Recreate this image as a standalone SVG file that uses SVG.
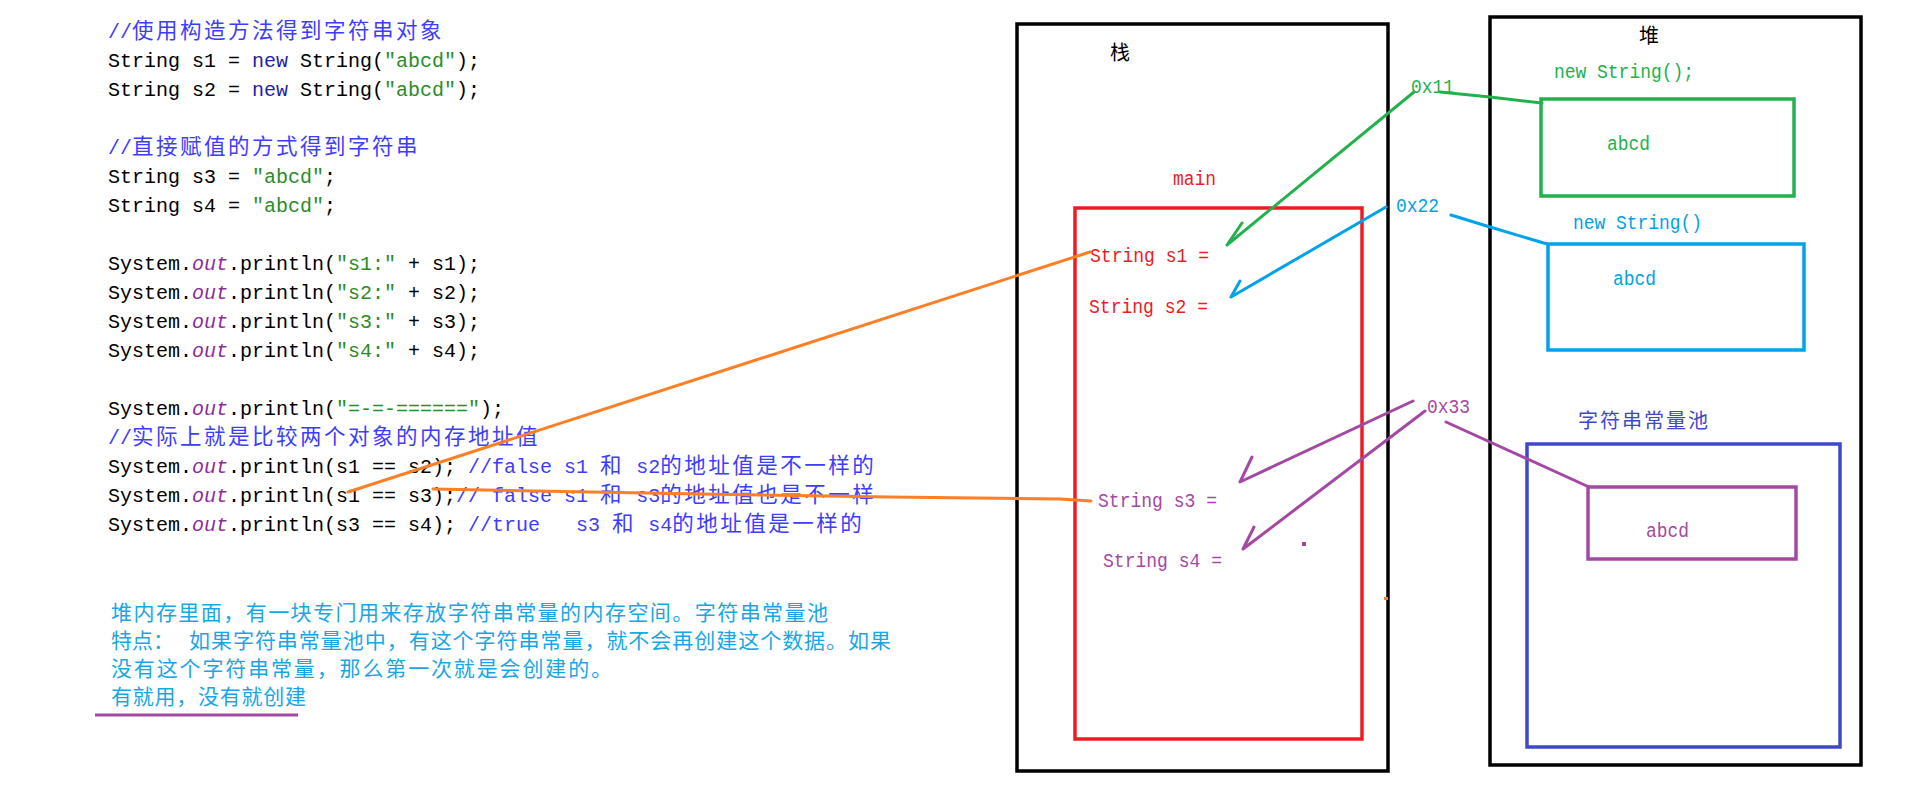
<svg xmlns="http://www.w3.org/2000/svg" width="1909" height="811" viewBox="0 0 1909 811">
<style>
.c{font-family:"Liberation Mono","Noto Sans CJK SC",monospace;font-size:20px;fill:#000;white-space:pre}
.k{fill:#1f1fa8}
.s{fill:#2a8c2a}
.o{fill:#8e2a9e;font-style:italic}
.cm{fill:#3d3dff}
.zh{font-family:"Noto Sans CJK SC",sans-serif;font-size:21.5px;letter-spacing:2.5px}
.note{font-family:"Noto Sans CJK SC",sans-serif;font-size:21px;fill:#1aa6e6}
.d{font-family:"Liberation Mono",monospace;font-size:20px}
.lbl{font-family:"Noto Sans CJK SC",sans-serif;font-size:20px}
.box{fill:none;stroke-width:3.5}
.ln{fill:none;stroke-width:3;stroke-linecap:round;stroke-linejoin:round}
</style>
<rect width="1909" height="811" fill="#fff"/>

<g id="code">
<text class="c" x="108" y="38" xml:space="preserve"><tspan class="cm">//<tspan class="zh">使用构造方法得到字符串对象</tspan></tspan></text>
<text class="c" x="108" y="67" xml:space="preserve">String s1 = <tspan class="k">new</tspan> String(<tspan class="s">"abcd"</tspan>);</text>
<text class="c" x="108" y="96" xml:space="preserve">String s2 = <tspan class="k">new</tspan> String(<tspan class="s">"abcd"</tspan>);</text>
<text class="c" x="108" y="154" xml:space="preserve"><tspan class="cm">//<tspan class="zh">直接赋值的方式得到字符串</tspan></tspan></text>
<text class="c" x="108" y="183" xml:space="preserve">String s3 = <tspan class="s">"abcd"</tspan>;</text>
<text class="c" x="108" y="212" xml:space="preserve">String s4 = <tspan class="s">"abcd"</tspan>;</text>
<text class="c" x="108" y="270" xml:space="preserve">System.<tspan class="o">out</tspan>.println(<tspan class="s">"s1:"</tspan> + s1);</text>
<text class="c" x="108" y="299" xml:space="preserve">System.<tspan class="o">out</tspan>.println(<tspan class="s">"s2:"</tspan> + s2);</text>
<text class="c" x="108" y="328" xml:space="preserve">System.<tspan class="o">out</tspan>.println(<tspan class="s">"s3:"</tspan> + s3);</text>
<text class="c" x="108" y="357" xml:space="preserve">System.<tspan class="o">out</tspan>.println(<tspan class="s">"s4:"</tspan> + s4);</text>
<text class="c" x="108" y="415" xml:space="preserve">System.<tspan class="o">out</tspan>.println(<tspan class="s">"=-=-======"</tspan>);</text>
<text class="c" x="108" y="444" xml:space="preserve"><tspan class="cm">//<tspan class="zh">实际上就是比较两个对象的内存地址值</tspan></tspan></text>
<text class="c" x="108" y="473" xml:space="preserve">System.<tspan class="o">out</tspan>.println(s1 == s2); <tspan class="cm">//false s1 <tspan class="zh">和</tspan> s2<tspan class="zh">的地址值是不一样的</tspan></tspan></text>
<text class="c" x="108" y="502" xml:space="preserve">System.<tspan class="o">out</tspan>.println(s1 == s3);<tspan class="cm">// false s1 <tspan class="zh">和</tspan> s3<tspan class="zh">的地址值也是不一样</tspan></tspan></text>
<text class="c" x="108" y="531" xml:space="preserve">System.<tspan class="o">out</tspan>.println(s3 == s4); <tspan class="cm">//true   s3 <tspan class="zh">和</tspan> s4<tspan class="zh">的地址值是一样的</tspan></tspan></text>
</g>

<g id="note">
<text class="note" x="111" y="620" textLength="717">堆内存里面，有一块专门用来存放字符串常量的内存空间。字符串常量池</text>
<text class="note" x="111" y="648">特点：</text>
<text class="note" x="189" y="648" textLength="702">如果字符串常量池中，有这个字符串常量，就不会再创建这个数据。如果</text>
<text class="note" x="111" y="676" textLength="501">没有这个字符串常量，那么第一次就是会创建的。</text>
<text class="note" x="111" y="704" textLength="195">有就用，没有就创建</text>
<line x1="95" y1="715" x2="298" y2="715" stroke="#a349a4" stroke-width="3"/>
</g>

<g id="stack">
<rect class="box" x="1017" y="24" width="371" height="747" stroke="#000"/>
<text class="lbl" x="1110" y="60" fill="#000">栈</text>
</g>

<g id="main">
<rect class="box" x="1075" y="208" width="287" height="531" stroke="#ed1c24" stroke-width="3"/>
<text class="d" x="1173" y="185" fill="#ed1c24" textLength="43" lengthAdjust="spacingAndGlyphs">main</text>
<text class="d" x="1090" y="262" fill="#ed1c24" textLength="119" lengthAdjust="spacingAndGlyphs">String s1 =</text>
<text class="d" x="1089" y="313" fill="#ed1c24" textLength="119" lengthAdjust="spacingAndGlyphs">String s2 =</text>
<text class="d" x="1098" y="507" fill="#a349a4" textLength="119" lengthAdjust="spacingAndGlyphs">String s3 =</text>
<text class="d" x="1103" y="567" fill="#a349a4" textLength="119" lengthAdjust="spacingAndGlyphs">String s4 =</text>
</g>

<g id="heap">
<rect class="box" x="1490" y="17" width="371" height="748" stroke="#000"/>
<text class="lbl" x="1639" y="43" fill="#000">堆</text>
</g>

<g id="obj1">
<text class="d" x="1554" y="78" fill="#22b14c" textLength="140" lengthAdjust="spacingAndGlyphs">new String();</text>
<rect class="box" x="1541" y="99" width="253" height="97" stroke="#22b14c" stroke-width="3"/>
<text class="d" x="1607" y="150" fill="#22b14c" textLength="43" lengthAdjust="spacingAndGlyphs">abcd</text>
</g>

<g id="obj2">
<text class="d" x="1573" y="229" fill="#00a2e8" textLength="129" lengthAdjust="spacingAndGlyphs">new String()</text>
<rect class="box" x="1548" y="244" width="256" height="106" stroke="#00a2e8" stroke-width="3"/>
<text class="d" x="1613" y="285" fill="#00a2e8" textLength="43" lengthAdjust="spacingAndGlyphs">abcd</text>
</g>

<g id="pool">
<text class="lbl" x="1578" y="428" fill="#3f48cc" textLength="130">字符串常量池</text>
<rect class="box" x="1527" y="444" width="313" height="303" stroke="#3f48cc" stroke-width="3"/>
<rect class="box" x="1588" y="487" width="208" height="72" stroke="#a349a4" stroke-width="3"/>
<text class="d" x="1646" y="537" fill="#a349a4" textLength="43" lengthAdjust="spacingAndGlyphs">abcd</text>
</g>

<g id="addresses">
<text class="d" x="1411" y="93" fill="#22b14c" textLength="43" lengthAdjust="spacingAndGlyphs">0x11</text>
<text class="d" x="1396" y="212" fill="#00a2e8" textLength="43" lengthAdjust="spacingAndGlyphs">0x22</text>
<text class="d" x="1427" y="413" fill="#a349a4" textLength="43" lengthAdjust="spacingAndGlyphs">0x33</text>
</g>

<g id="connectors">
<polyline class="ln" stroke="#22b14c" points="1242,223 1227,245 1414,92"/>
<polyline class="ln" stroke="#22b14c" points="1440,92 1490,97 1542,103"/>
<polyline class="ln" stroke="#00a2e8" points="1240,281 1231,297 1386,207"/>
<polyline class="ln" stroke="#00a2e8" points="1451,215 1490,227 1547,244"/>
<polyline class="ln" stroke="#a349a4" points="1252,457 1240,482 1413,401"/>
<polyline class="ln" stroke="#a349a4" points="1254,527 1243,549 1425,411"/>
<polyline class="ln" stroke="#a349a4" points="1446,422 1589,487"/>
<polyline class="ln" stroke="#ff7f27" points="1090,252 348,492"/>
<polyline class="ln" stroke="#ff7f27" points="433,489 700,494 890,497 1060,499 1091,501"/>
<rect x="1302" y="542" width="4" height="4" fill="#a349a4"/>
<rect x="1384" y="597" width="4" height="3" fill="#ff7f27"/>
</g>
</svg>
